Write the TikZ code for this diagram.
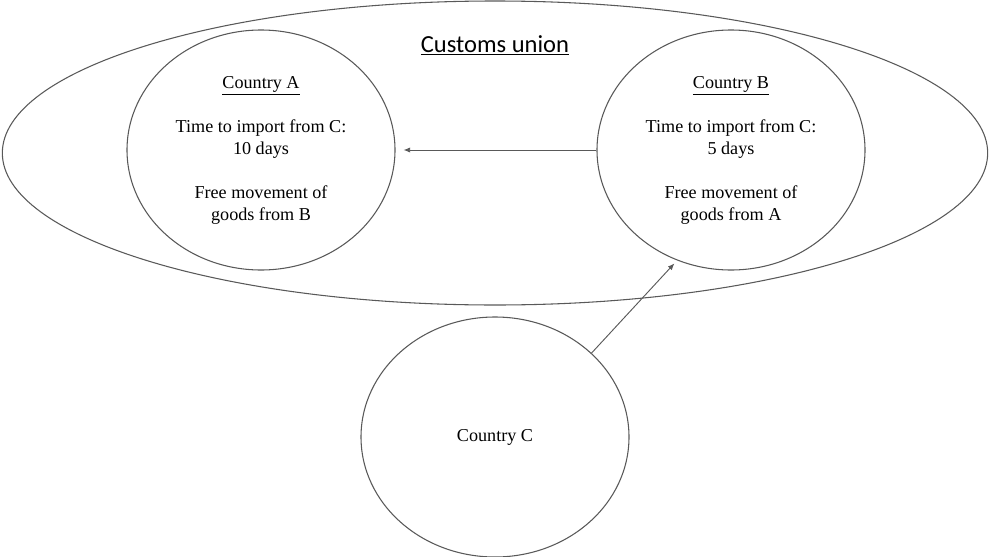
\documentclass[tikz,border=0pt]{standalone}
\usepackage{fontspec}
\setmainfont{Liberation Serif}
\newfontfamily\titlefont{Carlito}
\usetikzlibrary{shapes.geometric,arrows.meta}

\tikzset{
	country/.style={ellipse,draw=black!65,line width=0.8pt,minimum width=201pt,minimum height=180pt,inner sep=0pt,align=center,font=\fontsize{13.6}{16.5}\selectfont},
	flow/.style={draw=black!65,line width=0.7pt,-{Latex[length=5pt,width=4pt]}}
}

\begin{document}
\begin{tikzpicture}[x=0.75pt,y=-0.75pt]
				\useasboundingbox(0,0)rectangle(990,557);
				\node[ellipse,draw=black!65,line width=0.8pt,minimum width=739pt,minimum height=228pt](union)at(495,153){};
				\node[font=\titlefont\fontsize{18.4}{20}\selectfont](title)at(495,45){\underline{Customs union}};
				\node[country](A)at(261,150){\underline{Country A}\\[16.5pt]Time to import from C:\\10 days\\[16.5pt]Free movement of\\goods from B};
				\node[country](B)at(731,150){\underline{Country B}\\[16.5pt]Time to import from C:\\5 days\\[16.5pt]Free movement of\\goods from A};
				\node[country](C)at(495,437){Country C};
				\draw[flow,shorten >=6pt](B.west)--(A.east);
				\draw[flow,shorten >=3pt](C.41)--(B.244);
			\end{tikzpicture}
\end{document}
